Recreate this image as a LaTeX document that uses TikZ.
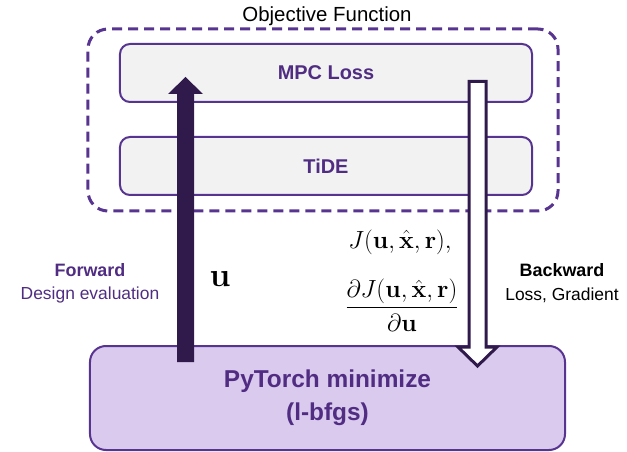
\documentclass[tikz,border=0pt]{standalone}
\usepackage{amsmath}
\usepackage{graphicx}
\usepackage[no-math]{fontspec}
\setmainfont{Liberation Sans}
\definecolor{ptext}{RGB}{80,45,130}
\definecolor{pline}{RGB}{88,52,145}
\definecolor{pdark}{RGB}{48,26,75}
\definecolor{pgray}{RGB}{242,242,242}
\definecolor{plav}{RGB}{218,202,238}
\begin{document}
\begin{tikzpicture}[x=1bp,y=-1bp,
  topbox/.style={draw=pline,line width=2bp,fill=pgray,rounded corners=10bp,
    minimum width=412bp,minimum height=58bp,inner sep=0pt,
    font=\fontsize{20}{22}\selectfont\bfseries,text=ptext},
  objbox/.style={draw=pline,line width=3bp,dash pattern=on 10bp off 6bp,rounded corners=20bp,
    minimum width=470bp,minimum height=182bp,inner sep=0pt},
  botbox/.style={draw=pline,line width=2bp,fill=plav,rounded corners=16bp,
    minimum width=475bp,minimum height=104bp,inner sep=0pt,align=center,
    font=\fontsize{24.5}{33}\selectfont\bfseries,text=ptext},
  lbl/.style={inner sep=0pt,align=center}
]
\useasboundingbox (0,0) rectangle (627,452);
\node[objbox] (obj) at (323,120) {};
\node[lbl,font=\fontsize{20.5}{22}\selectfont] (objt) at (327,16) {Objective Function};
\node[topbox] (mpc) at (326,73) {MPC Loss};
\node[topbox] (tide) at (326,166) {TiDE};
\node[botbox] (opt) at (327.5,398) {PyTorch minimize\\(l-bfgs)};
% forward arrow
\coordinate (fs) at (185.5,362);
\coordinate (ft) at (185.5,77);
\fill[pdark] (177,362) -- (177,94) -- (168,94) -- (ft) -- (203,94) -- (194,94) -- (194,362) -- cycle;
% backward arrow
\coordinate (bs) at (477.5,80);
\coordinate (bt) at (477.5,368);
\draw[pdark,line width=3bp,fill=white,line join=miter]
  (469,81.5) -- (486,81.5) -- (486,347) -- (497,347) -- (477.5,366) -- (458,347) -- (469,347) -- cycle;
\node[lbl,font=\fontsize{18}{20}\selectfont\bfseries,text=ptext] (fw) at (90,270) {Forward};
\node[lbl,font=\fontsize{17.5}{20}\selectfont,text=ptext] (fwd) at (90,295) {Design evaluation};
\node[lbl,font=\fontsize{24.88}{28}\selectfont] (u) at (220,279) {\scalebox{1.35}{$\mathbf{u}$}};
\node[lbl,font=\fontsize{18}{20}\selectfont\bfseries] (bw) at (562,270) {Backward};
\node[lbl,font=\fontsize{17.5}{20}\selectfont] (bwd) at (562,295) {Loss, Gradient};
\node[lbl,font=\fontsize{24.88}{28}\selectfont] (J) at (400,242) {$J(\mathbf{u},\hat{\mathbf{x}},\mathbf{r}),$};
\node[lbl,font=\fontsize{24.88}{28}\selectfont] (dJ) at (402,305) {$\dfrac{\partial J(\mathbf{u},\hat{\mathbf{x}},\mathbf{r})}{\partial\mathbf{u}}$};
\end{tikzpicture}
\end{document}
